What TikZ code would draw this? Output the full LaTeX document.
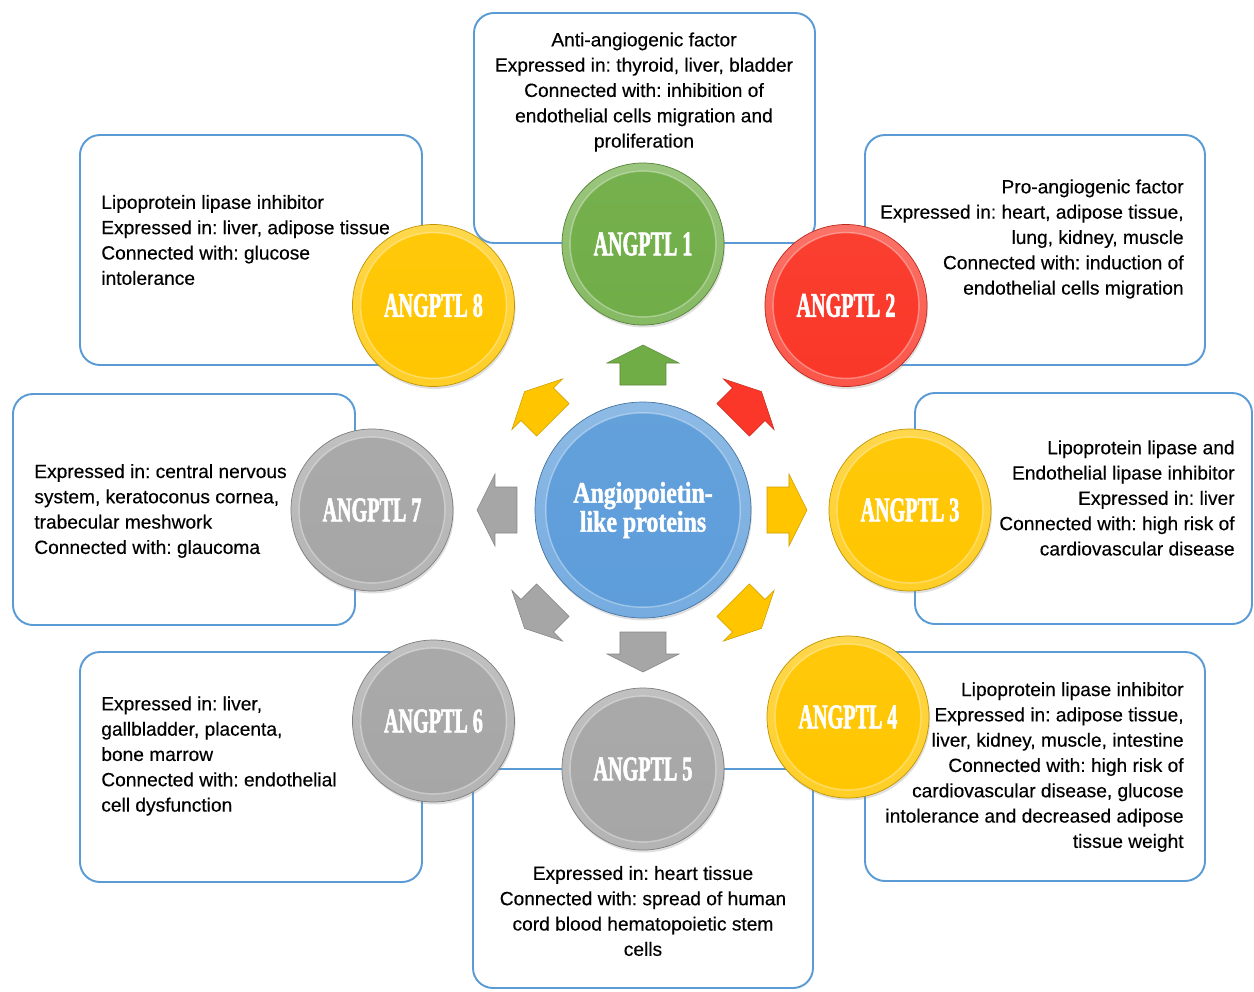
\documentclass[tikz,border=0pt]{standalone}
\usepackage{fontspec}
\setmainfont{Liberation Sans}[FakeBold=0.3]
\newfontfamily\angfont{Liberation Serif Bold}[FakeStretch=0.58, FakeBold=1.6]
\newfontfamily\corefont{Liberation Serif Bold}[FakeStretch=0.8, FakeBold=1.4]
\frenchspacing
\usetikzlibrary{positioning,calc,shadows}
\definecolor{angGreen}{RGB}{112,173,71}
\definecolor{angRed}{RGB}{250,55,40}
\definecolor{angYellow}{RGB}{255,198,0}
\definecolor{angGray}{RGB}{166,166,166}
\definecolor{angBlue}{RGB}{93,157,218}
\definecolor{boxBlue}{RGB}{91,155,213}
\tikzset{
	infobox/.style={draw=boxBlue, line width=1.1pt, rounded corners=0.4cm, fill=white},
	info/.style={inner sep=0pt, font=\fontsize{10.9}{14.4}\selectfont},
	disc/.style={circle, inner sep=0pt, minimum size=3.24cm, draw=#1!75!black, line width=.4pt,
		top color=#1!70!white, bottom color=#1!85!white,
		drop shadow={opacity=.25, shadow xshift=.6pt, shadow yshift=-1.4pt},
		text=white, font=\angfont\fontsize{19.7}{22}\selectfont,
		path picture={
			\shade[top color=#1!96!white, bottom color=#1]
				let \p1=($(path picture bounding box.north east)-(path picture bounding box.center)$) in
				(path picture bounding box.center) circle[radius=0.9*\x1];
			\draw[white, opacity=.35, line width=.8pt]
				let \p1=($(path picture bounding box.north east)-(path picture bounding box.center)$) in
				(path picture bounding box.center) circle[radius=0.9*\x1];
		}},
	pics/blockarrow/.style={code={
		\filldraw[fill=#1, draw=#1!80!black, line width=.3pt]
			(-0.4,-0.46) -- (0.04,-0.46) -- (0.04,-0.72) -- (0.4,0) -- (0.04,0.72) -- (0.04,0.46) -- (-0.4,0.46) -- cycle;
	}}
}

\begin{document}
\begin{tikzpicture}
	\useasboundingbox (-12.86,-9.62) rectangle (12.22,10.2);
	
	% boxes
	\draw[infobox] (-3.38,9.94) rectangle (3.44,5.34);
	\draw[infobox] (4.44,7.5) rectangle (11.24,2.9);
	\draw[infobox] (5.44,2.34) rectangle (12.18,-2.28);
	\draw[infobox] (4.44,-2.84) rectangle (11.24,-7.42);
	\draw[infobox] (-3.4,-5.18) rectangle (3.4,-9.56);
	\draw[infobox] (-11.26,-2.84) rectangle (-4.42,-7.44);
	\draw[infobox] (-12.6,2.32) rectangle (-5.76,-2.3);
	\draw[infobox] (-11.26,7.5) rectangle (-4.42,2.9);
	
	% arrows
	\pic[rotate=90] at (90:2.9) {blockarrow=angGreen};
	\pic[rotate=45] at (45:2.95) {blockarrow=angRed};
	\pic[rotate=0] at (0:2.88) {blockarrow=angYellow};
	\pic[rotate=-45] at (-45:2.95) {blockarrow=angYellow};
	\pic[rotate=-90] at (-90:2.84) {blockarrow=angGray};
	\pic[rotate=-135] at (-135:2.95) {blockarrow=angGray};
	\pic[rotate=180] at (180:2.92) {blockarrow=angGray};
	\pic[rotate=135] at (135:2.95) {blockarrow=angYellow};
	
	% discs
	\node[disc=angBlue, minimum size=4.32cm, align=center,
		font=\corefont\fontsize{17}{16.5}\selectfont] (core) at (0,0) {Angiopoietin-\\like proteins};
	\node[disc=angGreen] (a1) at (0,5.32) {ANGPTL 1};
	\node[disc=angRed] (a2) at (4.06,4.09) {ANGPTL 2};
	\node[disc=angYellow] (a3) at (5.34,0) {ANGPTL 3};
	\node[disc=angYellow] (a4) at (4.1,-4.14) {ANGPTL 4};
	\node[disc=angGray] (a5) at (0,-5.18) {ANGPTL 5};
	\node[disc=angGray] (a6) at (-4.19,-4.22) {ANGPTL 6};
	\node[disc=angGray] (a7) at (-5.42,0) {ANGPTL 7};
	\node[disc=angYellow] (a8) at (-4.19,4.09) {ANGPTL 8};
	
	% texts
	\node[info, align=center] (t1) at (0.02,8.36) {Anti-angiogenic factor\\Expressed in: thyroid, liver, bladder\\Connected with: inhibition of\\endothelial cells migration and\\proliferation};
	\node[info, align=right, anchor=east] (t2) at (10.82,5.42) {Pro-angiogenic factor\\Expressed in: heart, adipose tissue,\\lung, kidney, muscle\\Connected with: induction of\\endothelial cells migration};
	\node[info, align=right, anchor=east] (t3) at (11.84,0.24) {Lipoprotein lipase and\\Endothelial lipase inhibitor\\Expressed in: liver\\Connected with: high risk of\\cardiovascular disease};
	\node[info, align=right, anchor=east] (t4) at (10.82,-5.14) {Lipoprotein lipase inhibitor\\Expressed in: adipose tissue,\\liver, kidney, muscle, intestine\\Connected with: high risk of\\cardiovascular disease, glucose\\intolerance and decreased adipose\\tissue weight};
	\node[info, align=center] (t5) at (0,-8.02) {Expressed in: heart tissue\\Connected with: spread of human\\cord blood hematopoietic stem\\cells};
	\node[info, align=left, anchor=west] (t6) at (-10.84,-4.92) {Expressed in: liver,\\gallbladder, placenta,\\bone marrow\\Connected with: endothelial\\cell dysfunction};
	\node[info, align=left, anchor=west] (t7) at (-12.18,-0.02) {Expressed in: central nervous\\system, keratoconus cornea,\\trabecular meshwork\\Connected with: glaucoma};
	\node[info, align=left, anchor=west] (t8) at (-10.84,5.4) {Lipoprotein lipase inhibitor\\Expressed in: liver, adipose tissue\\Connected with: glucose\\intolerance};
	
\end{tikzpicture}
\end{document}
